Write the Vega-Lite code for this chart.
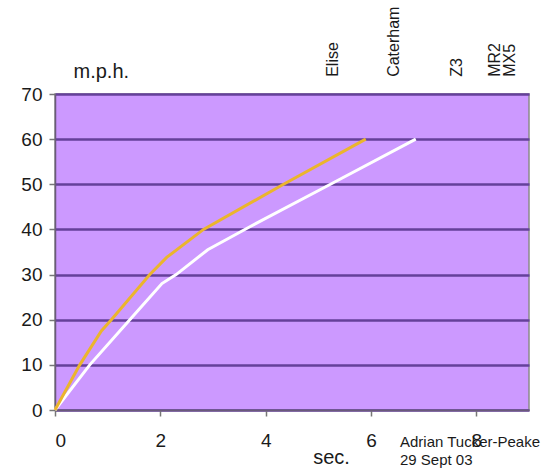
{
  "$schema": "https://vega.github.io/schema/vega-lite/v6.json",
  "width": 474,
  "height": 316,
  "autosize": {"type": "none"},
  "padding": {"left": 55, "top": 94, "right": 20, "bottom": 60},
  "background": "#ffffff",
  "config": {
    "font": "Liberation Sans",
    "view": {"fill": "#CC99FF", "stroke": "#8a8a8a", "strokeWidth": 1.5}
  },
  "layer": [
    {
      "data": {"values": [
        {"run": "white", "t": 0, "mph": 0},
        {"run": "white", "t": 0.66, "mph": 10},
        {"run": "white", "t": 1.42, "mph": 20},
        {"run": "white", "t": 2.03, "mph": 28},
        {"run": "white", "t": 2.3, "mph": 30},
        {"run": "white", "t": 2.9, "mph": 35.5},
        {"run": "white", "t": 3.7, "mph": 40.6},
        {"run": "white", "t": 5.23, "mph": 50},
        {"run": "white", "t": 6.85, "mph": 60},
        {"run": "orange", "t": 0, "mph": 0},
        {"run": "orange", "t": 0.47, "mph": 10},
        {"run": "orange", "t": 0.88, "mph": 17.5},
        {"run": "orange", "t": 1.07, "mph": 20},
        {"run": "orange", "t": 1.8, "mph": 30},
        {"run": "orange", "t": 2.12, "mph": 33.8},
        {"run": "orange", "t": 2.82, "mph": 40},
        {"run": "orange", "t": 4.34, "mph": 50},
        {"run": "orange", "t": 5.9, "mph": 60}
      ]},
      "mark": {"type": "line", "strokeWidth": 3},
      "encoding": {
        "x": {
          "field": "t", "type": "quantitative",
          "scale": {"domain": [0, 9], "nice": false, "zero": true},
          "axis": {
            "values": [0, 2, 4, 6, 8],
            "grid": false,
            "domainColor": "#6a5a7a",
            "domainWidth": 1.5,
            "tickColor": "#777777",
            "tickSize": 6,
            "tickWidth": 1.5,
            "labelFontSize": 19,
            "labelColor": "#1a1a1a",
            "labelPadding": 15,
            "title": "sec.",
            "titleFontSize": 20,
            "titleFontWeight": "normal",
            "titleColor": "#1a1a1a",
            "titleX": 276,
            "titleY": 53,
            "titleAlign": "center",
            "titleBaseline": "alphabetic"
          }
        },
        "y": {
          "field": "mph", "type": "quantitative",
          "scale": {"domain": [0, 70], "nice": false, "zero": true},
          "axis": {
            "values": [0, 10, 20, 30, 40, 50, 60, 70],
            "grid": true,
            "gridColor": "#65409a",
            "gridWidth": 2.5,
            "gridOpacity": 1,
            "domainColor": "#6a5a7a",
            "domainWidth": 1.5,
            "tickColor": "#777777",
            "tickSize": 6,
            "tickWidth": 1.5,
            "labelFontSize": 19,
            "labelColor": "#1a1a1a",
            "labelPadding": 7,
            "title": "m.p.h.",
            "titleAngle": 0,
            "titleFontSize": 20,
            "titleFontWeight": "normal",
            "titleColor": "#1a1a1a",
            "titleX": 18,
            "titleY": -17,
            "titleAlign": "left",
            "titleBaseline": "alphabetic"
          }
        },
        "color": {
          "field": "run", "type": "nominal",
          "scale": {"domain": ["white", "orange"], "range": ["#FFFFFF", "#EBB52C"]},
          "legend": null
        },
        "order": {"field": "run"}
      }
    },
    {
      "data": {"values": [
        {"car": "Elise", "t": 5.28},
        {"car": "Caterham", "t": 6.44},
        {"car": "Z3", "t": 7.63},
        {"car": "MR2", "t": 8.35},
        {"car": "MX5", "t": 8.64}
      ]},
      "mark": {"type": "text", "angle": 270, "align": "left", "baseline": "middle", "fontSize": 16, "color": "#1a1a1a"},
      "encoding": {
        "x": {"field": "t", "type": "quantitative"},
        "y": {"datum": 73.8, "type": "quantitative"},
        "text": {"field": "car"}
      }
    },
    {
      "data": {"values": [{}]},
      "mark": {"type": "text", "align": "left", "baseline": "alphabetic", "fontSize": 15, "lineHeight": 17.7, "color": "#1a1a1a", "lineBreak": "\n"},
      "encoding": {
        "x": {"datum": 6.55, "type": "quantitative"},
        "y": {"datum": -8.26, "type": "quantitative"},
        "text": {"value": "Adrian Tucker-Peake\n29 Sept 03"}
      }
    }
  ]
}
